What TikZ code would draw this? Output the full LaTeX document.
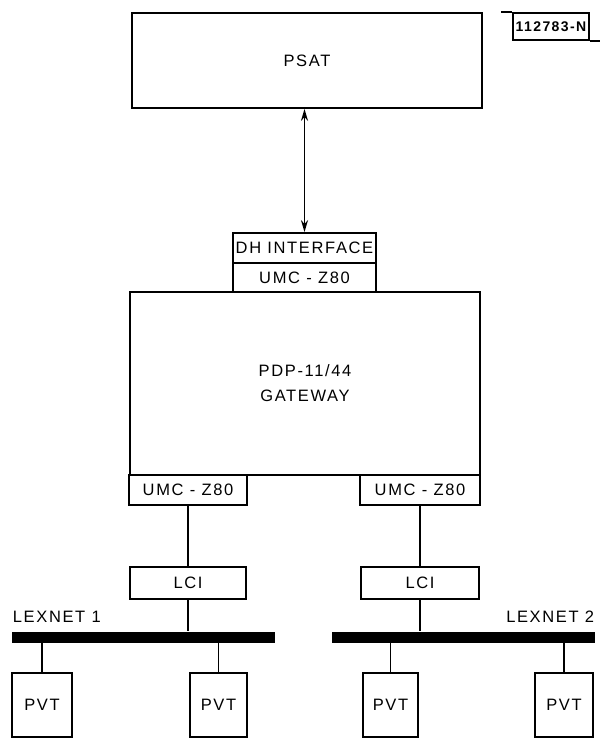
\documentclass[tikz,border=0pt]{standalone}
\usepackage{fontspec}
\setmainfont{Liberation Sans}[LetterSpace=10]
\usepackage{tikz}
\usetikzlibrary{arrows.meta,positioning}

\begin{document}
\begin{tikzpicture}[x=1pt,y=-1pt,line width=1.8pt,
        blk/.style={rectangle, draw, inner sep=0pt, font=\fontsize{16.5}{25}\selectfont},
        bus/.style={rectangle, fill=black, inner sep=0pt, minimum height=11pt}]
        \useasboundingbox (0,0) rectangle (599,738);
        \node[blk, minimum width=350, minimum height=95] at (307,60.5) (psat) {PSAT};
        \node[blk, minimum width=76, minimum height=27, font=\fontsize{14}{15}\selectfont\bfseries] at (551,26.5) (tag) {112783-N};
        \draw (tag.north west) -- ++(-11,0);
        \draw (tag.south east) -- ++(10,0);
        \node[blk, minimum width=143, minimum height=30] at (304.5,248) (dhif) {DH INTERFACE};
        \node[blk, minimum width=143, minimum height=29] at (304.5,277.5) (umct) {UMC - Z80};
        \node[blk, minimum width=350, minimum height=183, align=center] at (305,383.5) (gw) {PDP-11/44\\GATEWAY};
        \node[blk, minimum width=118, minimum height=30] at (188,490) (umcl) {UMC - Z80};
        \node[blk, minimum width=120, minimum height=30] at (420,490) (umcr) {UMC - Z80};
        \node[blk, minimum width=116, minimum height=32] at (188,583) (lcil) {LCI};
        \node[blk, minimum width=118, minimum height=32] at (420,583) (lcir) {LCI};
        \draw[{Stealth[length=12pt,width=7pt]}-{Stealth[length=12pt,width=7pt]}] (psat.south -| dhif.north) -- (dhif.north);
        \draw (umcl) -- (lcil);
        \draw (umcr) -- (lcir);
        % lexnet busses
        \node[bus, minimum width=263] at (143.5,637) (bus1) {};
        \node[bus, minimum width=263] at (463.5,637) (bus2) {};
        \node[font=\fontsize{16.5}{18}\selectfont, anchor=west, inner sep=0pt] at (12,617) (lex1) {LEXNET 1};
        \node[font=\fontsize{16.5}{18}\selectfont, anchor=east, inner sep=0pt] at (595,617) (lex2) {LEXNET 2};
        \draw (lcil) -- (lcil |- bus1.north);
        \draw (lcir) -- (lcir |- bus2.north);
        \node[blk, minimum width=60, minimum height=64] at (42,705) (pvta) {PVT};
        \node[blk, minimum width=57, minimum height=64] at (218.5,705) (pvtb) {PVT};
        \node[blk, minimum width=55, minimum height=64] at (390.5,705) (pvtc) {PVT};
        \node[blk, minimum width=58, minimum height=64] at (564,705) (pvtd) {PVT};
        \draw (pvta) -- (pvta |- bus1.south);
        \draw (pvtb) -- (pvtb |- bus1.south);
        \draw (pvtc) -- (pvtc |- bus2.south);
        \draw (pvtd) -- (pvtd |- bus2.south);
\end{tikzpicture}
\end{document}
